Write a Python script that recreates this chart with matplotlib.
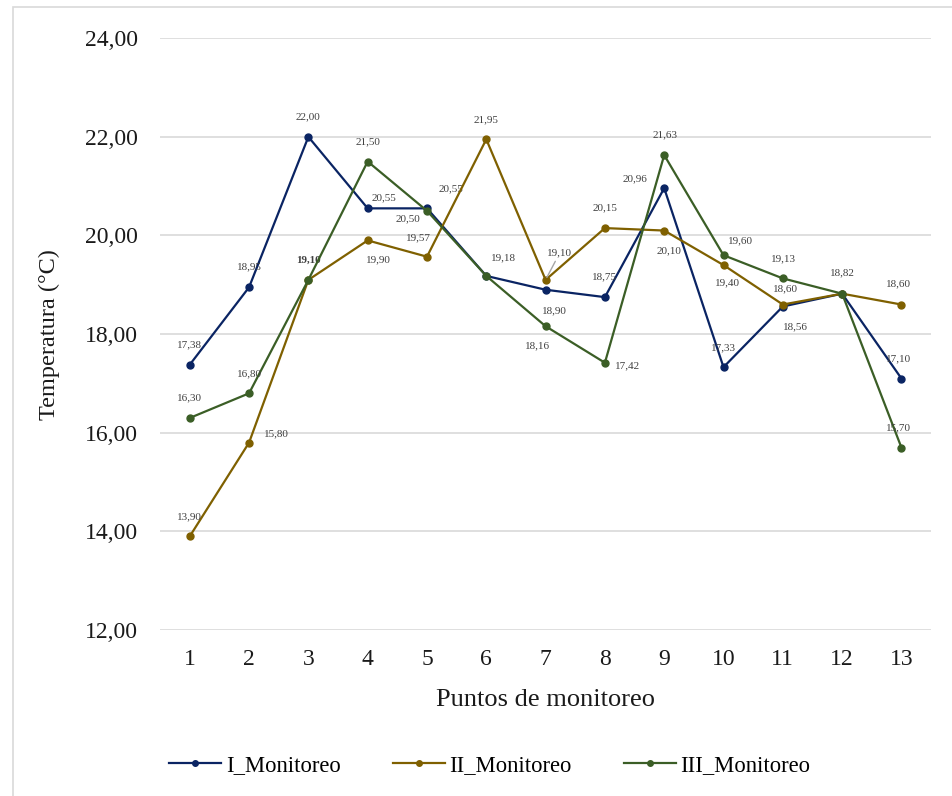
import matplotlib.pyplot as plt
from matplotlib.patches import Rectangle
from matplotlib.ticker import FuncFormatter

plt.rcParams['font.family'] = ['Liberation Serif', 'DejaVu Serif']

puntos = list(range(1, 14))
monitoreo_1 = [17.38, 18.95, 22.00, 20.55, 20.55, 19.18, 18.90, 18.75, 20.96, 17.33, 18.56, 18.82, 17.10]
monitoreo_2 = [13.90, 15.80, 19.10, 19.90, 19.57, 21.95, 19.10, 20.15, 20.10, 19.40, 18.60, 18.82, 18.60]
monitoreo_3 = [16.30, 16.80, 19.10, 21.50, 20.50, 19.18, 18.16, 17.42, 21.63, 19.60, 19.13, 18.82, 15.70]
nombres = ['I_Monitoreo', 'II_Monitoreo', 'III_Monitoreo']
colores = ['#0a2463', '#7f6000', '#3b5e26']

# desplazamiento (px) de cada etiqueta respecto a su punto; None = sin etiqueta
desp_1 = [(0, 20), (0, 20), (0, 20), (16, 11), (24, 20), (17, 18), (9, -21), (0, 20),
          (-29, 9), (0, 19), (13, -20), (0, 21), (-3, 20)]
desp_2 = [(0, 20), (27, 9), (0, 20), (11, -19), (-8, 19), (0, 20), (14, 27), (0, 20),
          (5, -20), (4, -18), (3, 16), None, (-3, 21)]
desp_3 = [(0, 20), (0, 20), None, (0, 20), (-19, -8), None, (-8, -20), (23, -3),
          (1, 20), (17, 14), (1, 20), None, (-3, 20)]

fig = plt.figure(figsize=(9.53, 7.96), dpi=100)
ax = fig.add_axes([0.168, 0.2085, 0.809, 0.7435])

series = [monitoreo_1, monitoreo_2, monitoreo_3]
desps = [desp_1, desp_2, desp_3]
for i, (valores, nombre, color, desp) in enumerate(zip(series, nombres, colores, desps)):
    ax.plot(puntos, valores, color=color, lw=1.6, marker='o', ms=5, label=nombre, zorder=3)
    for x, v, d in zip(puntos, valores, desp):
        if d is None:
            continue
        # en el punto 3 las etiquetas de II y III se superponen
        peso = 'bold' if (i == 1 and x == 3) else 'normal'
        ax.annotate(f'{v:.2f}'.replace('.', ','), (x, v), xytext=d, textcoords='offset pixels',
                    ha='center', va='center', fontsize=8, color='#404040', fontweight=peso)

# linea guia de la etiqueta del punto 7
ax.annotate('', (7, 19.10), xytext=(11, 21), textcoords='offset pixels',
            arrowprops=dict(arrowstyle='-', color='#a6a6a6', lw=1))

ax.set_xlim(0.5, 13.5)
ax.set_ylim(12, 24)
ax.set_xticks(puntos)
ax.set_yticks([12, 14, 16, 18, 20, 22, 24])
ax.yaxis.set_major_formatter(FuncFormatter(lambda v, p: f'{v:.2f}'.replace('.', ',')))
ax.tick_params(length=0, labelsize=17, colors='#1a1a1a')
ax.tick_params(axis='y', pad=16)
ax.tick_params(axis='x', pad=14)
ax.grid(axis='y', color='#d9d9d9', lw=1.2)
ax.set_axisbelow(True)
for s in ax.spines.values():
    s.set_visible(False)

ax.set_xlabel('Puntos de monitoreo', fontsize=19, color='#1a1a1a')
ax.set_ylabel('Temperatura (°C)', fontsize=17.5, color='#1a1a1a')
ax.xaxis.set_label_coords(0.5, -0.1)
ax.yaxis.set_label_coords(-0.13, 0.5)

fig.legend(loc='center', bbox_to_anchor=(0.514, 0.038), ncol=3, frameon=False,
           fontsize=16.3, handlelength=2.3, columnspacing=2.3, handletextpad=0.2, markerscale=0.8)

fig.patches.append(Rectangle((13 / 953, -0.01), 1.0, 1 - 7 / 796 + 0.01, transform=fig.transFigure,
                             fill=False, edgecolor='#d9d9d9', lw=1.2))

fig.savefig('out.png', dpi=100)
